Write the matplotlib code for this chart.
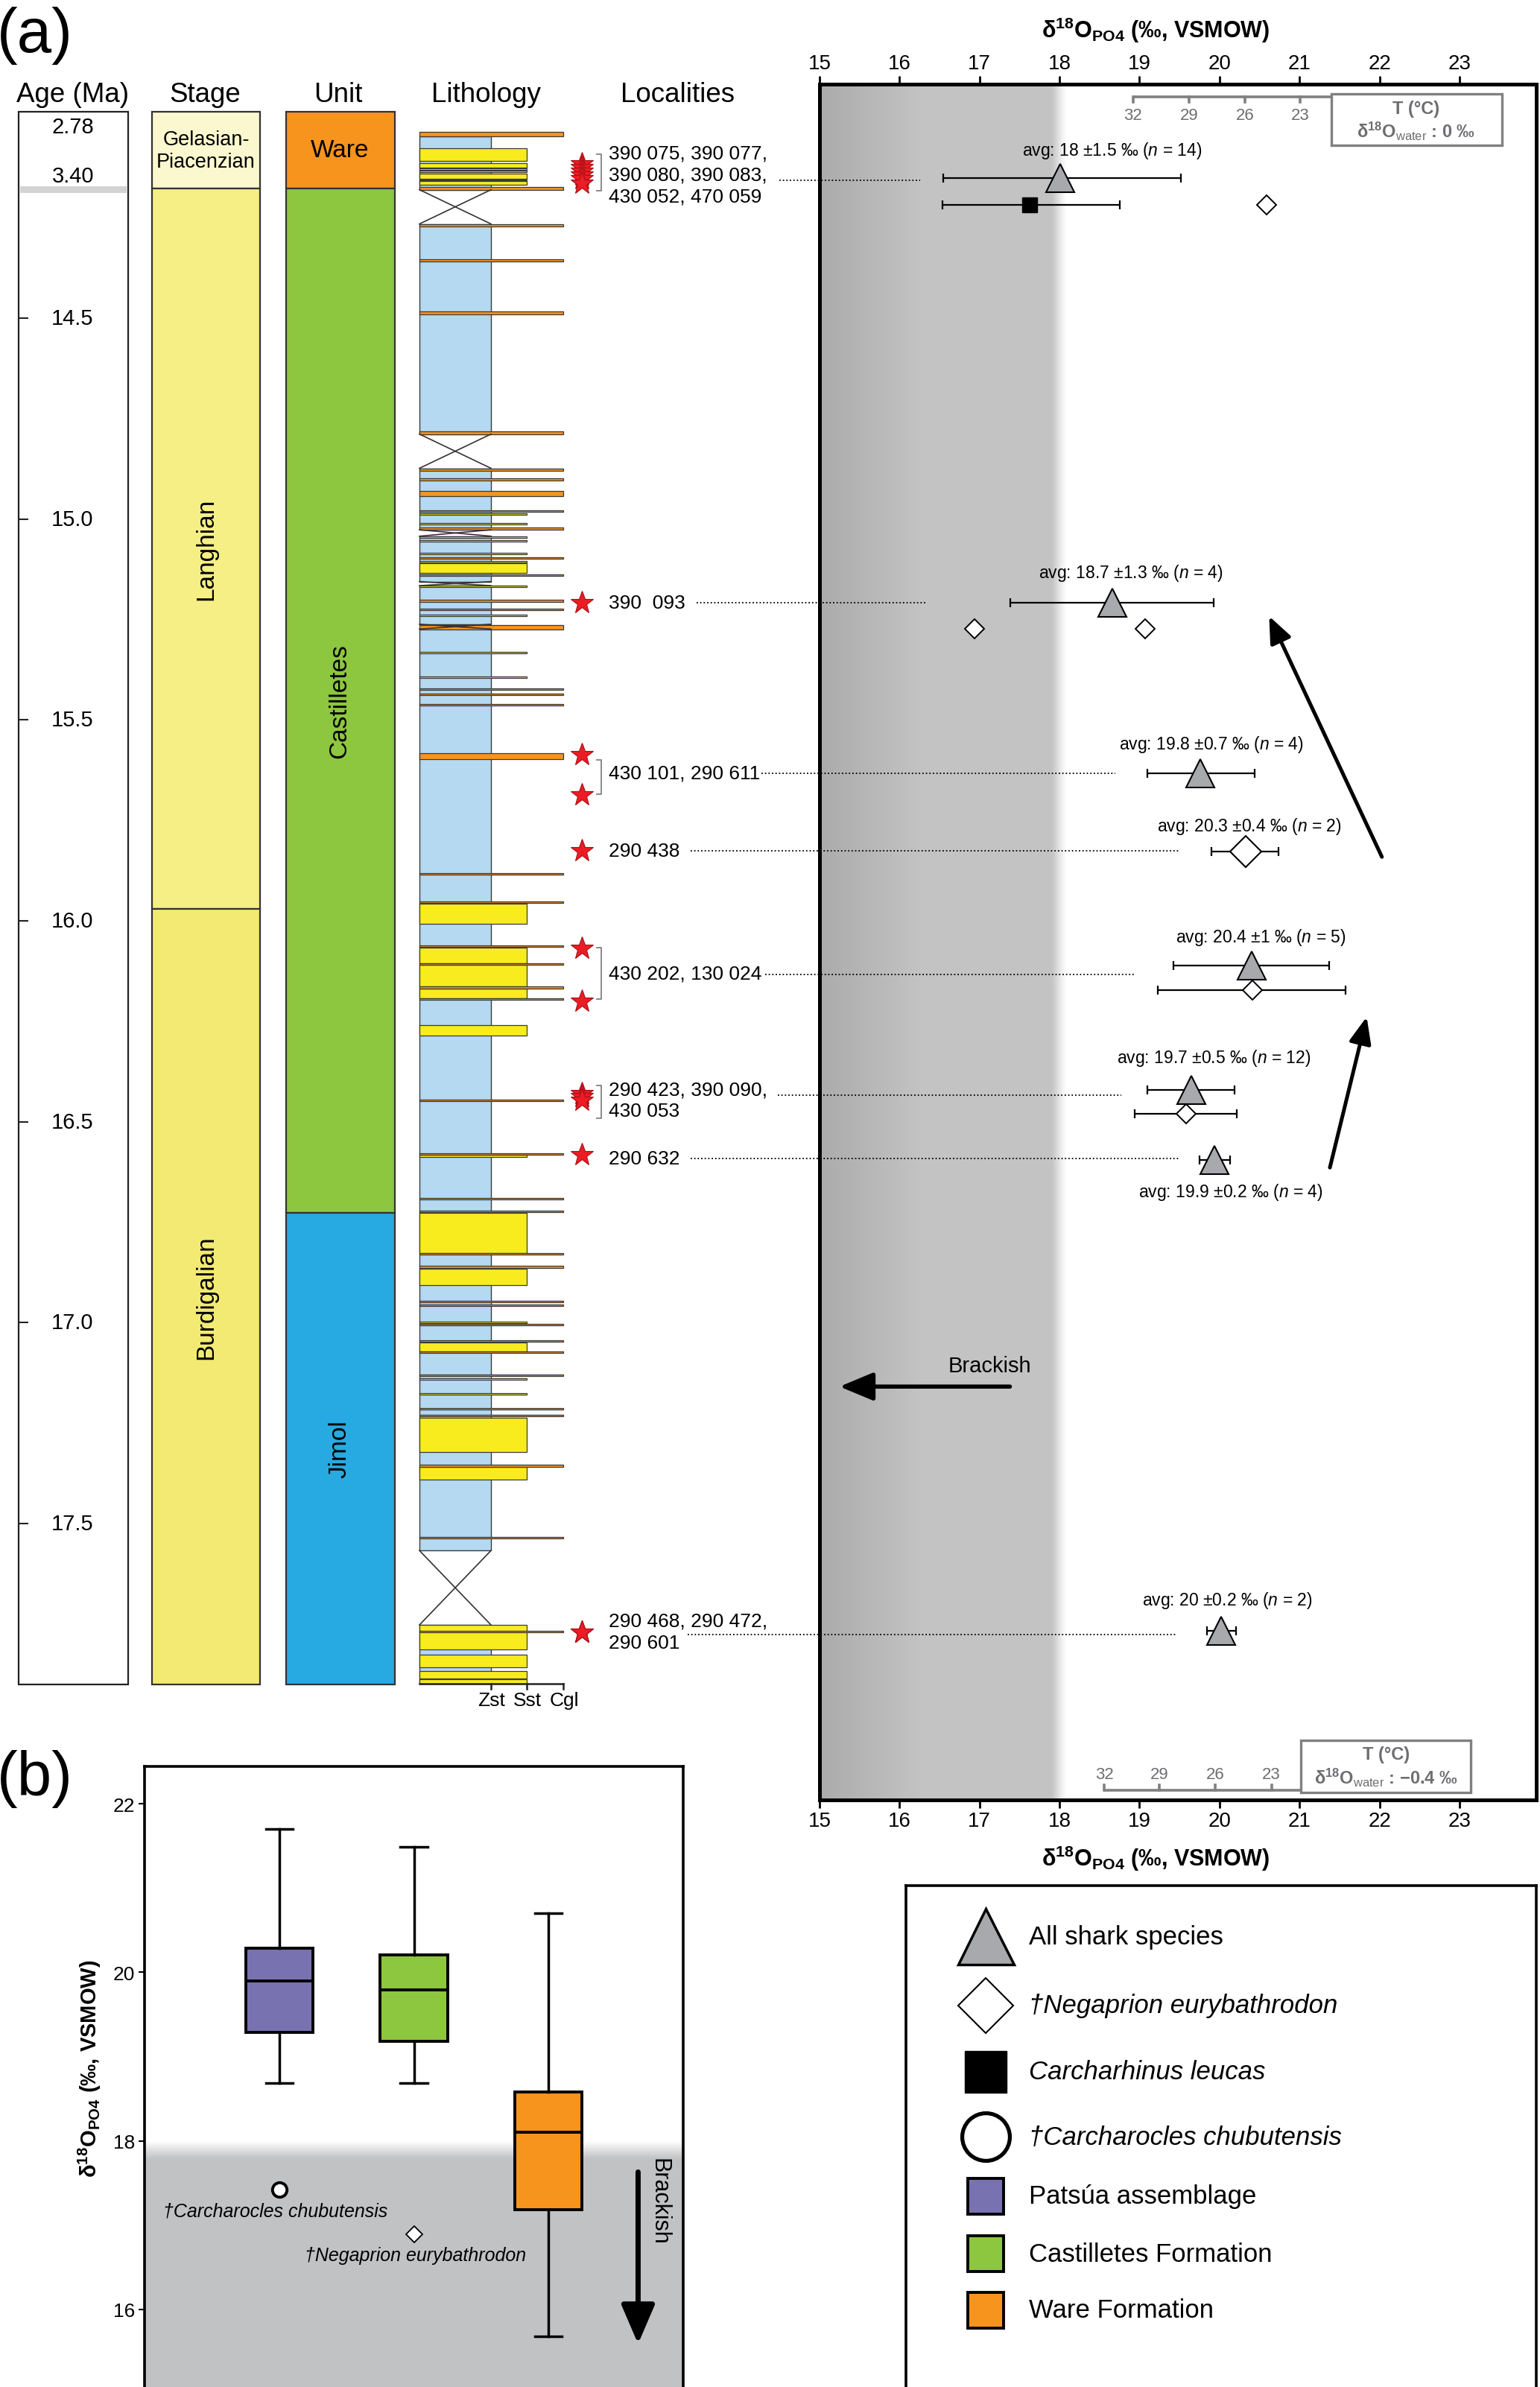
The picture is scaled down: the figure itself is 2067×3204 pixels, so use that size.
import numpy as np
import matplotlib
matplotlib.use('Agg')
import matplotlib.pyplot as plt
from matplotlib.patches import Rectangle

plt.rcParams['font.family'] = ['Liberation Sans', 'DejaVu Sans']
plt.rcParams['mathtext.fontset'] = 'custom'
plt.rcParams['mathtext.rm'] = 'Liberation Sans'
plt.rcParams['mathtext.it'] = 'Liberation Sans:italic'
plt.rcParams['mathtext.bf'] = 'Liberation Sans:bold'

# ===================== DATA =====================
# --- stratigraphic column (ages in Ma) ---
age_ticks = [14.5, 15.0, 15.5, 16.0, 16.5, 17.0, 17.5]
plio_age_labels = [2.78, 3.40]
age_break = (3.524, 3.607)

stage_names = ['Gelasian-\nPiacenzian', 'Langhian', 'Burdigalian']
stage_top = [2.60, 3.552, 15.97]
stage_base = [3.552, 15.97, 17.90]

unit_names = ['Ware', 'Castilletes', 'Jimol']
unit_top = [2.60, 3.552, 16.727]
unit_base = [3.552, 16.727, 17.90]

mud_top = [2.901, 14.266, 14.874, 15.043, 15.166, 15.274, 17.752]
mud_base = [3.570, 14.789, 15.027, 15.156, 15.262, 17.567, 17.898]

sst_top = [3.052, 3.236, 3.308, 3.336, 3.368, 3.442, 3.461,
           14.986, 15.010, 15.043, 15.053, 15.084, 15.104, 15.110, 15.166, 15.238,
           15.331, 15.392, 15.957, 16.066, 16.110, 16.168, 16.259, 16.583, 16.727,
           16.865, 16.998, 17.049, 17.138, 17.175, 17.237, 17.359, 17.752, 17.826,
           17.867, 17.888]
sst_base = [3.214, 3.291, 3.318, 3.346, 3.431, 3.450, 3.508,
            14.990, 15.014, 15.047, 15.057, 15.088, 15.108, 15.134, 15.170, 15.242,
            15.335, 15.396, 16.008, 16.106, 16.164, 16.193, 16.286, 16.587, 16.826,
            16.906, 17.002, 17.071, 17.142, 17.179, 17.322, 17.390, 17.813, 17.858,
            17.886, 17.898]

cgl_top = [2.845, 3.539,
           14.266, 14.353, 14.484, 14.783, 14.874, 14.899, 14.930, 14.978, 15.022,
           15.095, 15.138, 15.202, 15.223, 15.265, 15.421, 15.434, 15.460, 15.583,
           15.881, 15.951, 16.061, 16.106, 16.164, 16.193, 16.445, 16.578, 16.689,
           16.721, 16.826, 16.859, 16.946, 16.955, 17.003, 17.043, 17.071, 17.129,
           17.212, 17.229, 17.354, 17.533, 17.767]
cgl_base = [2.901, 3.570,
            14.273, 14.359, 14.491, 14.789, 14.881, 14.905, 14.943, 14.982, 15.026,
            15.099, 15.142, 15.206, 15.227, 15.276, 15.425, 15.438, 15.464, 15.597,
            15.885, 15.955, 16.065, 16.110, 16.168, 16.197, 16.449, 16.582, 16.693,
            16.725, 16.830, 16.863, 16.950, 16.959, 17.007, 17.047, 17.075, 17.133,
            17.216, 17.233, 17.358, 17.537, 17.771]

hiatus_top = [3.570, 14.789, 15.027, 15.156, 15.262, 17.567]
hiatus_base = [14.266, 14.874, 15.043, 15.166, 15.274, 17.752]

grain_labels = ['Zst', 'Sst', 'Cgl']

# --- localities ---
star_age = [3.245, 3.291, 3.338, 3.384, 3.431, 3.487, 15.208, 15.587, 15.686,
            15.825, 16.069, 16.201, 16.430, 16.438, 16.446, 17.771, 17.771, 17.771,
            16.582]
loc_text = ['390 075, 390 077,\n390 080, 390 083,\n430 052, 470 059',
            '390  093', '430 101, 290 611', '290 438', '430 202, 130 024',
            '290 423, 390 090,\n430 053', '290 632', '290 468, 290 472,\n290 601']
loc_text_age = [3.384, 15.208, 15.633, 15.826, 16.131, 16.447, 16.591, 17.769]
loc_bracket_top = [3.124, np.nan, 15.600, np.nan, 16.066, 16.409, np.nan, np.nan]
loc_bracket_base = [3.580, np.nan, 15.684, np.nan, 16.194, 16.492, np.nan, np.nan]
link_age = [3.456, 15.208, 15.633, 15.826, 16.133, 16.434, 16.592, 17.776]
link_from = [14.50, 13.46, 14.27, 13.39, 14.32, 14.48, 13.39, 13.35]
link_to = [16.26, 16.33, 18.70, 19.49, 18.95, 18.77, 19.49, 19.46]

# --- d18O_PO4 values (permil VSMOW) ---
tri_age = [3.421, 15.208, 15.633, 16.112, 16.420, 16.596, 17.766]
tri_d18o = [18.01, 18.66, 19.76, 20.40, 19.65, 19.94, 20.02]
tri_lo = [16.55, 17.38, 19.10, 19.42, 19.10, 19.75, 19.84]
tri_hi = [19.52, 19.93, 20.44, 21.37, 20.19, 20.13, 20.21]

dia_age = [3.756, 15.273, 15.273, 15.828, 16.172, 16.481]
dia_d18o = [20.59, 16.94, 19.07, 20.33, 20.41, 19.58]
dia_lo = [np.nan, np.nan, np.nan, 19.90, 19.23, 18.94]
dia_hi = [np.nan, np.nan, np.nan, 20.74, 21.58, 20.22]
dia_is_group_avg = [False, False, False, True, False, False]

sq_age = [3.756]
sq_d18o = [17.63]
sq_lo = [16.54]
sq_hi = [18.75]

avg_text = ['avg: 18 ±1.5 ‰ ($n$ = 14)', 'avg: 18.7 ±1.3 ‰ ($n$ = 4)',
            'avg: 19.8 ±0.7 ‰ ($n$ = 4)', 'avg: 20.3 ±0.4 ‰ ($n$ = 2)',
            'avg: 20.4 ±1 ‰ ($n$ = 5)', 'avg: 19.7 ±0.5 ‰ ($n$ = 12)',
            'avg: 19.9 ±0.2 ‰ ($n$ = 4)', 'avg: 20 ±0.2 ‰ ($n$ = 2)']
avg_x = [18.66, 18.89, 19.90, 20.37, 20.52, 19.93, 20.14, 20.10]
avg_age = [3.075, 15.133, 15.559, 15.764, 16.040, 16.340, 16.674, 17.690]

trend_tail = [(22.03, 15.841), (21.38, 16.614)]
trend_head = [(20.62, 15.242), (21.84, 16.239)]

T_labels = [32, 29, 26, 23]
T_x_water0 = [18.92, 19.62, 20.32, 21.01]
T_x_water_m04 = [18.56, 19.25, 19.95, 20.65]

# --- panel (b) box plots ---
box_names = ['Patsúa assemblage', 'Castilletes Formation', 'Ware Formation']
box_whislo = [18.69, 18.69, 15.68]
box_q1 = [19.29, 19.18, 17.18]
box_med = [19.90, 19.79, 18.10]
box_q3 = [20.29, 20.21, 18.58]
box_whishi = [21.70, 21.49, 20.70]
chub_value = 17.42
negap_value = 16.89

# ===================== FIGURE =====================
W, H = 2067, 3205
fig = plt.figure(figsize=(W / 100, H / 100), dpi=100)


def px_axes(l, t, r, b):
    return fig.add_axes([l / W, 1 - b / H, (r - l) / W, (b - t) / H])


# broken age scale: Pliocene part compressed, gap, Miocene linear
PLIO_AGE, PLIO_POS, PLIO_SCALE = 3.40, 14.147, 0.1994
PLIO_END, MIO_START = 3.9, 14.26
GAP_POS0 = PLIO_POS + (PLIO_END - PLIO_AGE) * PLIO_SCALE


def fwd(a):
    a = np.asarray(a, dtype=float)
    plio = PLIO_POS + (a - PLIO_AGE) * PLIO_SCALE
    gap = GAP_POS0 + (a - PLIO_END) * (MIO_START - GAP_POS0) / (MIO_START - PLIO_END)
    return np.where(a <= PLIO_END, plio, np.where(a < MIO_START, gap, a))


def inv(p):
    p = np.asarray(p, dtype=float)
    plio = PLIO_AGE + (p - PLIO_POS) / PLIO_SCALE
    gap = PLIO_END + (p - GAP_POS0) * (MIO_START - PLIO_END) / (MIO_START - GAP_POS0)
    return np.where(p <= GAP_POS0, plio, np.where(p < MIO_START, gap, p))


Y_BOTTOM, Y_TOP = 18.1875, 2.253

# ---------------- left part: columns ----------------
axL = px_axes(0, 114, 1100, 2417)
axL.set_yscale('function', functions=(fwd, inv))
axL.set_xlim(0, 1100)
axL.axis('off')

hdr_y = 2.38
for name, xc in zip(['Age (Ma)', 'Stage', 'Unit', 'Lithology', 'Localities'],
                    [98, 275, 454, 652, 910]):
    axL.text(xc, hdr_y, name, ha='center', va='center', fontsize=26.5)

# Age column
axL.bar(25, unit_base[-1] - unit_top[0], bottom=unit_top[0], width=147, align='edge',
        color='white', edgecolor='#222222', lw=1.6, zorder=1)
axL.bar(27, age_break[1] - age_break[0], bottom=age_break[0], width=143, align='edge',
        color='#D3D3D3', lw=0, zorder=2)
axL.hlines(age_ticks, 26, 38, color='#222222', lw=1.5, zorder=3)
for a in age_ticks:
    axL.text(97, a, f'{a:.1f}', ha='center', va='center', fontsize=21)
for a in plio_age_labels:
    axL.text(98, a, f'{a:.2f}', ha='center', va='center', fontsize=21)

# Stage column
stage_colors = ['#FBF7CE', '#F6EF86', '#F3EA74']
for nm, t, b, c in zip(stage_names, stage_top, stage_base, stage_colors):
    axL.bar(204, b - t, bottom=t, width=145, align='edge', color=c,
            edgecolor='#333333', lw=1.6, zorder=1)
    mid = float(inv(0.5 * (fwd(t) + fwd(b))))
    if '\n' in nm:
        axL.text(276.5, mid, nm, ha='center', va='center', fontsize=19.5, linespacing=1.2)
    else:
        axL.text(276.5, mid, nm, ha='center', va='center', fontsize=24, rotation=90)

# Unit column
unit_colors = ['#F7941D', '#8DC63F', '#27AAE1']
for nm, t, b, c in zip(unit_names, unit_top, unit_base, unit_colors):
    axL.bar(384, b - t, bottom=t, width=146, align='edge', color=c,
            edgecolor='#333333', lw=1.6, zorder=1)
    mid = float(inv(0.5 * (fwd(t) + fwd(b))))
    if nm == 'Ware':
        axL.text(456, mid, nm, ha='center', va='center', fontsize=24)
    else:
        axL.text(456, mid, nm, ha='center', va='center', fontsize=24, rotation=90)

# Lithology column
LX0, LZST, LSST, LCGL = 563, 659, 707, 756
edge_c = '#3A3A3A'
axL.bar(LX0, np.subtract(mud_base, mud_top), bottom=mud_top, width=LZST - LX0,
        align='edge', color='#B4D9F1', edgecolor=edge_c, lw=1.0, zorder=2)
axL.bar(LX0, np.subtract(sst_base, sst_top), bottom=sst_top, width=LSST - LX0,
        align='edge', color='#F8EC1E', edgecolor=edge_c, lw=0.9, zorder=3)
axL.bar(LX0, np.subtract(cgl_base, cgl_top), bottom=cgl_top, width=LCGL - LX0,
        align='edge', color='#F7941D', edgecolor=edge_c, lw=0.9, zorder=4)
for t, b in zip(hiatus_top, hiatus_base):
    axL.plot([LX0, LZST], [t, b], color='#333333', lw=1.2, zorder=5)
    axL.plot([LZST, LX0], [t, b], color='#333333', lw=1.2, zorder=5)
lith_bottom = mud_base[-1]
axL.plot([LX0, LCGL], [lith_bottom, lith_bottom], color='#222222', lw=1.8, zorder=6)
for xx, lab in zip([LZST, LSST, LCGL], grain_labels):
    axL.plot([xx, xx], [lith_bottom, lith_bottom + 0.013], color='#222222', lw=1.8, zorder=6)
    axL.text(xx + 1, 17.94, lab, ha='center', va='center', fontsize=19)

# Localities
axL.plot(np.full(len(star_age), 781.0), star_age, ls='none', marker='*', ms=23,
         mfc='#ED1C24', mec='#A50F15', mew=0.8, zorder=7)
for txt, a, bt, bb in zip(loc_text, loc_text_age, loc_bracket_top, loc_bracket_base):
    axL.text(817, a, txt, ha='left', va='center', fontsize=19, linespacing=1.25)
    if not np.isnan(bt):
        axL.plot([801, 807, 807, 801], [bt, bt, bb, bb], color='#808080', lw=1.3, zorder=6)

axL.set_ylim(Y_BOTTOM, Y_TOP)

# ---------------- right part: d18O panel ----------------
axR = px_axes(1100, 114, 2062, 2417)
axR.set_yscale('function', functions=(fwd, inv))
axR.set_xlim(15, 23.96)

# brackish shading
gx = np.linspace(15, 18.1, 156)
for x0, x1 in zip(gx[:-1], gx[1:]):
    xm = 0.5 * (x0 + x1)
    if xm < 16.3:
        g = 0.67 + (xm - 15) / 1.3 * (0.765 - 0.67)
    elif xm < 17.9:
        g = 0.765
    else:
        g = 0.765 + min(1.0, (xm - 17.9) / 0.18) * (1 - 0.765)
    axR.axvspan(x0, x1, color=(g, g, g), lw=0, zorder=0)

# dotted links from localities
for a, x0, x1 in zip(link_age, link_from, link_to):
    axR.plot([x0, x1], [a, a], color='black', lw=1.3, ls=(0, (1, 1.6)),
             clip_on=False, zorder=2)

# error bars + markers
tri_d = np.array(tri_d18o)
axR.errorbar(tri_d, tri_age, xerr=[tri_d - np.array(tri_lo), np.array(tri_hi) - tri_d],
             fmt='none', ecolor='black', elinewidth=1.6, capsize=4, capthick=1.6, zorder=3)
dia_d = np.array(dia_d18o)
dlo, dhi = np.array(dia_lo), np.array(dia_hi)
dage = np.array(dia_age)
m = ~np.isnan(dlo)
axR.errorbar(dia_d[m], dage[m], xerr=[dia_d[m] - dlo[m], dhi[m] - dia_d[m]],
             fmt='none', ecolor='black', elinewidth=1.6, capsize=4, capthick=1.6, zorder=3)
sq_d = np.array(sq_d18o)
axR.errorbar(sq_d, sq_age, xerr=[sq_d - np.array(sq_lo), np.array(sq_hi) - sq_d],
             fmt='none', ecolor='black', elinewidth=1.6, capsize=4, capthick=1.6, zorder=3)

axR.plot(tri_d, tri_age, ls='none', marker='^', ms=28, mfc='#A7A9AC', mec='black',
         mew=1.5, zorder=5)
big = np.array(dia_is_group_avg)
axR.plot(dia_d[big], dage[big], ls='none', marker='D', ms=21.5, mfc='white', mec='black',
         mew=1.5, zorder=5)
axR.plot(dia_d[~big], dage[~big], ls='none', marker='D', ms=13.5, mfc='white', mec='black',
         mew=1.4, zorder=5)
axR.plot(sq_d, sq_age, ls='none', marker='s', ms=15, mfc='black', mec='black', zorder=5)

for t, x, a in zip(avg_text, avg_x, avg_age):
    axR.text(x, a, t, ha='center', va='center', fontsize=16.5)

for tail, head in zip(trend_tail, trend_head):
    axR.annotate('', xy=head, xytext=tail,
                 arrowprops=dict(arrowstyle='-|>,head_length=0.6,head_width=0.25',
                                 lw=3.6, color='black', mutation_scale=36,
                                 shrinkA=0, shrinkB=0))

# brackish label + arrow
axR.text(17.13, 17.106, 'Brackish', ha='center', va='center', fontsize=21)
axR.annotate('', xy=(15.25, 17.159), xytext=(17.38, 17.159),
             arrowprops=dict(arrowstyle='-|>,head_length=0.6,head_width=0.25',
                             lw=4, color='black', mutation_scale=46,
                             shrinkA=0, shrinkB=0))

# temperature scales
trans = axR.get_xaxis_transform()
tgrey = '#6D6E71'
# top (d18O water = 0)
axR.plot([T_x_water0[0], 21.40], [0.9926, 0.9926], transform=trans, color='#808080',
         lw=2.6, solid_capstyle='butt', zorder=4)
for x, lab in zip(T_x_water0, T_labels):
    axR.plot([x, x], [0.9926, 0.9897], transform=trans, color='#808080', lw=2.6, zorder=4)
    axR.text(x, 0.9818, str(lab), transform=trans, ha='center', va='center',
             fontsize=16, color=tgrey)
axR.add_patch(Rectangle((21.40, 0.9642), 2.13, 0.0303, transform=trans, fill=False,
                        edgecolor='#808080', lw=2.4, zorder=4))
axR.text(22.46, 0.9858, 'T (°C)', transform=trans, ha='center', va='center',
         fontsize=17, color=tgrey, fontweight='bold')
axR.text(22.46, 0.9727, r'$\mathbf{\delta^{18}O}_{\mathrm{water}}$ : 0 ‰', transform=trans,
         ha='center', va='center', fontsize=17, color=tgrey, fontweight='bold')
# bottom (d18O water = -0.4)
axR.plot([T_x_water_m04[0], 21.02], [0.0056, 0.0056], transform=trans, color='#808080',
         lw=2.6, solid_capstyle='butt', zorder=4)
for x, lab in zip(T_x_water_m04, T_labels):
    axR.plot([x, x], [0.0056, 0.0088], transform=trans, color='#808080', lw=2.6, zorder=4)
    axR.text(x, 0.0150, str(lab), transform=trans, ha='center', va='center',
             fontsize=16, color=tgrey)
axR.add_patch(Rectangle((21.02, 0.0043), 2.12, 0.0304, transform=trans, fill=False,
                        edgecolor='#808080', lw=2.4, zorder=4))
axR.text(22.08, 0.0269, 'T (°C)', transform=trans, ha='center', va='center',
         fontsize=17, color=tgrey, fontweight='bold')
axR.text(22.08, 0.0132, r'$\mathbf{\delta^{18}O}_{\mathrm{water}}$ : −0.4 ‰',
         transform=trans, ha='center', va='center', fontsize=17, color=tgrey,
         fontweight='bold')

axR.set_xticks(range(15, 24))
axR.set_yticks([])
axR.tick_params(axis='x', which='major', top=True, labeltop=True, bottom=True,
                labelbottom=True, direction='out', length=8, width=2, labelsize=20, pad=3)
for s in axR.spines.values():
    s.set_linewidth(3.6)
xlab = r'$\mathbf{\delta^{18}O_{PO4}}$ (‰, VSMOW)'
axR.text(19.2, 1.0317, xlab, transform=trans, ha='center', va='center', fontsize=22,
         fontweight='bold')
axR.text(19.2, -0.0339, xlab, transform=trans, ha='center', va='center', fontsize=22,
         fontweight='bold')
axR.set_ylim(Y_BOTTOM, Y_TOP)

fig.text(47 / W, 1 - 48 / H, '(a)', ha='center', va='center', fontsize=60)
fig.text(47 / W, 1 - 2388 / H, '(b)', ha='center', va='center', fontsize=60)

# ---------------- panel (b) ----------------
axB = px_axes(194, 2372, 917, 3215)
axB.set_xlim(0, 4)
axB.set_ylim(14.99, 22.444)
axB.axhspan(14.99, 17.79, color='#C1C2C4', lw=0, zorder=0)
gy = np.linspace(17.79, 18.0, 30)
for y0, y1 in zip(gy[:-1], gy[1:]):
    f = (0.5 * (y0 + y1) - 17.79) / 0.21
    c = np.array([0xC1, 0xC2, 0xC4]) / 255 * (1 - f) + f
    axB.axhspan(y0, y1, color=tuple(c), lw=0, zorder=0)

stats = [dict(label=n, whislo=a, q1=b, med=c, q3=d, whishi=e, fliers=[])
         for n, a, b, c, d, e in zip(box_names, box_whislo, box_q1, box_med, box_q3, box_whishi)]
bp = axB.bxp(stats, positions=[1, 2, 3], widths=0.5, patch_artist=True, showfliers=False,
             capwidths=0.2,
             boxprops=dict(lw=2.8, edgecolor='black'),
             medianprops=dict(color='black', lw=2.8),
             whiskerprops=dict(color='black', lw=2.5),
             capprops=dict(color='black', lw=2.5), zorder=3)
for patch, c in zip(bp['boxes'], ['#7872B0', '#8DC63F', '#F7941D']):
    patch.set_facecolor(c)

axB.plot([1], [chub_value], ls='none', marker='o', ms=14, mfc='white', mec='black',
         mew=2.8, zorder=4)
axB.plot([2], [negap_value], ls='none', marker='D', ms=11, mfc='white', mec='black',
         mew=1.3, zorder=4)
axB.text(0.974, 17.17, '†Carcharocles chubutensis', ha='center', va='center',
         fontsize=18, fontstyle='italic')
axB.text(2.01, 16.64, '†Negaprion eurybathrodon', ha='center', va='center',
         fontsize=18, fontstyle='italic')
axB.annotate('', xy=(3.665, 15.59), xytext=(3.665, 17.63),
             arrowprops=dict(arrowstyle='-|>,head_length=0.7,head_width=0.3',
                             lw=5, color='black', mutation_scale=46, shrinkA=0, shrinkB=0))
axB.text(3.82, 17.29, 'Brackish', rotation=-90, ha='center', va='center', fontsize=22)

axB.set_xticks([])
axB.set_yticks([16, 18, 20, 22])
axB.tick_params(axis='y', direction='out', length=6, width=1.5, labelsize=19)
for s in axB.spines.values():
    s.set_linewidth(2.6)
axB.set_ylabel(xlab, fontsize=21, fontweight='bold')
axB.yaxis.set_label_coords(-0.077, 0.52)

# ---------------- legend ----------------
axG = px_axes(1216, 2532, 2062, 3215)
axG.set_xlim(0, 1)
axG.set_ylim(0, 1)
axG.set_xticks([])
axG.set_yticks([])
for s in axG.spines.values():
    s.set_linewidth(2.6)
leg_rows = [0.900, 0.765, 0.634, 0.506, 0.390, 0.276, 0.166]
leg_items = [
    ('^', 54, '#A7A9AC', 2.5, 'All shark species', 'normal'),
    ('D', 38, 'white', 1.5, '†Negaprion eurybathrodon', 'italic'),
    ('s', 41, 'black', 1.0, 'Carcharhinus leucas', 'italic'),
    ('o', 46, 'white', 3.8, '†Carcharocles chubutensis', 'italic'),
    ('s', 35, '#7872B0', 2.8, box_names[0], 'normal'),
    ('s', 35, '#8DC63F', 2.8, box_names[1], 'normal'),
    ('s', 35, '#F7941D', 2.8, box_names[2], 'normal'),
]
for yrow, (mk, ms, fc, mew, lab, sty) in zip(leg_rows, leg_items):
    axG.plot([0.126], [yrow], ls='none', marker=mk, ms=ms, mfc=fc, mec='black', mew=mew)
    axG.text(0.195, yrow, lab, ha='left', va='center', fontsize=25, fontstyle=sty)

fig.savefig('out.png', dpi=100)
